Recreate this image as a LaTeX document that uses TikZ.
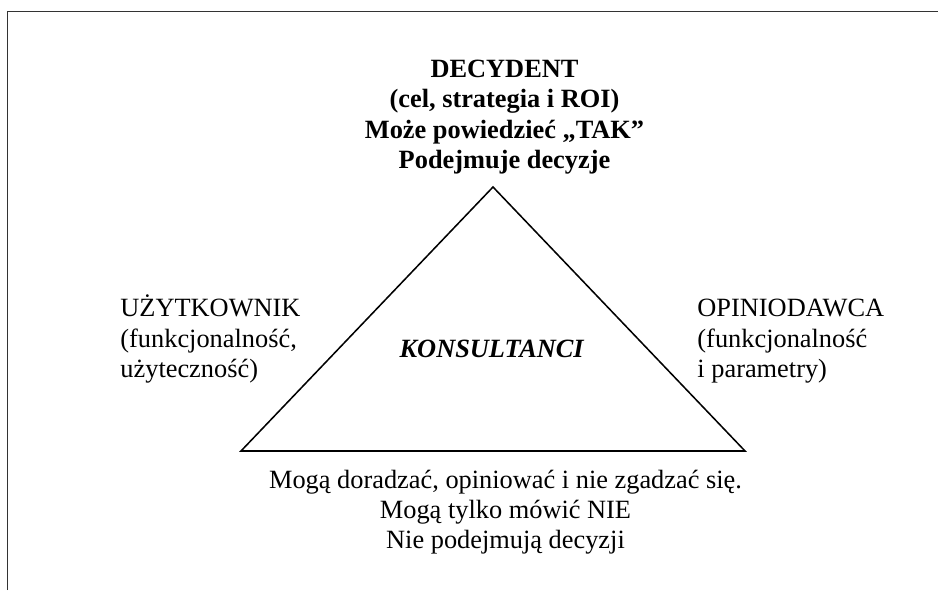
\documentclass[tikz,border=0pt]{standalone}
\usepackage{fontspec}
\setmainfont{Liberation Serif}
\begin{document}
\begin{tikzpicture}[
  txt/.style={inner sep=0pt,font=\fontsize{12}{13.8}\selectfont},
  boldtxt/.style={txt,align=center,font=\fontsize{12}{13.8}\selectfont\bfseries},
  sidetxt/.style={txt,align=left,anchor=base west},
  tri/.style={draw=black,line width=0.7pt,line join=miter},
  rim/.style={draw=black!80,line width=0.8pt}]
\path[use as bounding box] (0,0) rectangle (15.008,-9.44);
\draw[rim] (0.12,-9.44) -- (0.12,-0.184) -- (15.008,-0.184);
\coordinate (apex) at (7.888,-2.992);
\coordinate (baseL) at (3.856,-7.216);
\coordinate (baseR) at (11.92,-7.216);
\draw[tri] (baseL) -- (apex) -- (baseR) -- cycle;
% multi-line nodes: base anchor sits on the last line
\node[boldtxt,anchor=base] (decydent) at (8.072,-2.696)
  {DECYDENT\\(cel, strategia i ROI)\\Może powiedzieć „TAK”\\Podejmuje decyzje};
\node[sidetxt] (uzytkownik) at (1.92,-6.04)
  {UŻYTKOWNIK\\(funkcjonalność,\\użyteczność)};
\node[sidetxt] (opiniodawca) at (11.152,-6.04)
  {OPINIODAWCA\\(funkcjonalność\\i parametry)};
\node[txt,anchor=base,font=\fontsize{12}{13.8}\selectfont\bfseries\itshape] (konsultanci) at (7.867,-5.717) {KONSULTANCI};
\node[txt,align=center,anchor=base] (nie) at (8.088,-8.781)
  {Mogą doradzać, opiniować i nie zgadzać się.\\Mogą tylko mówić NIE\\Nie podejmują decyzji};
\end{tikzpicture}
\end{document}
